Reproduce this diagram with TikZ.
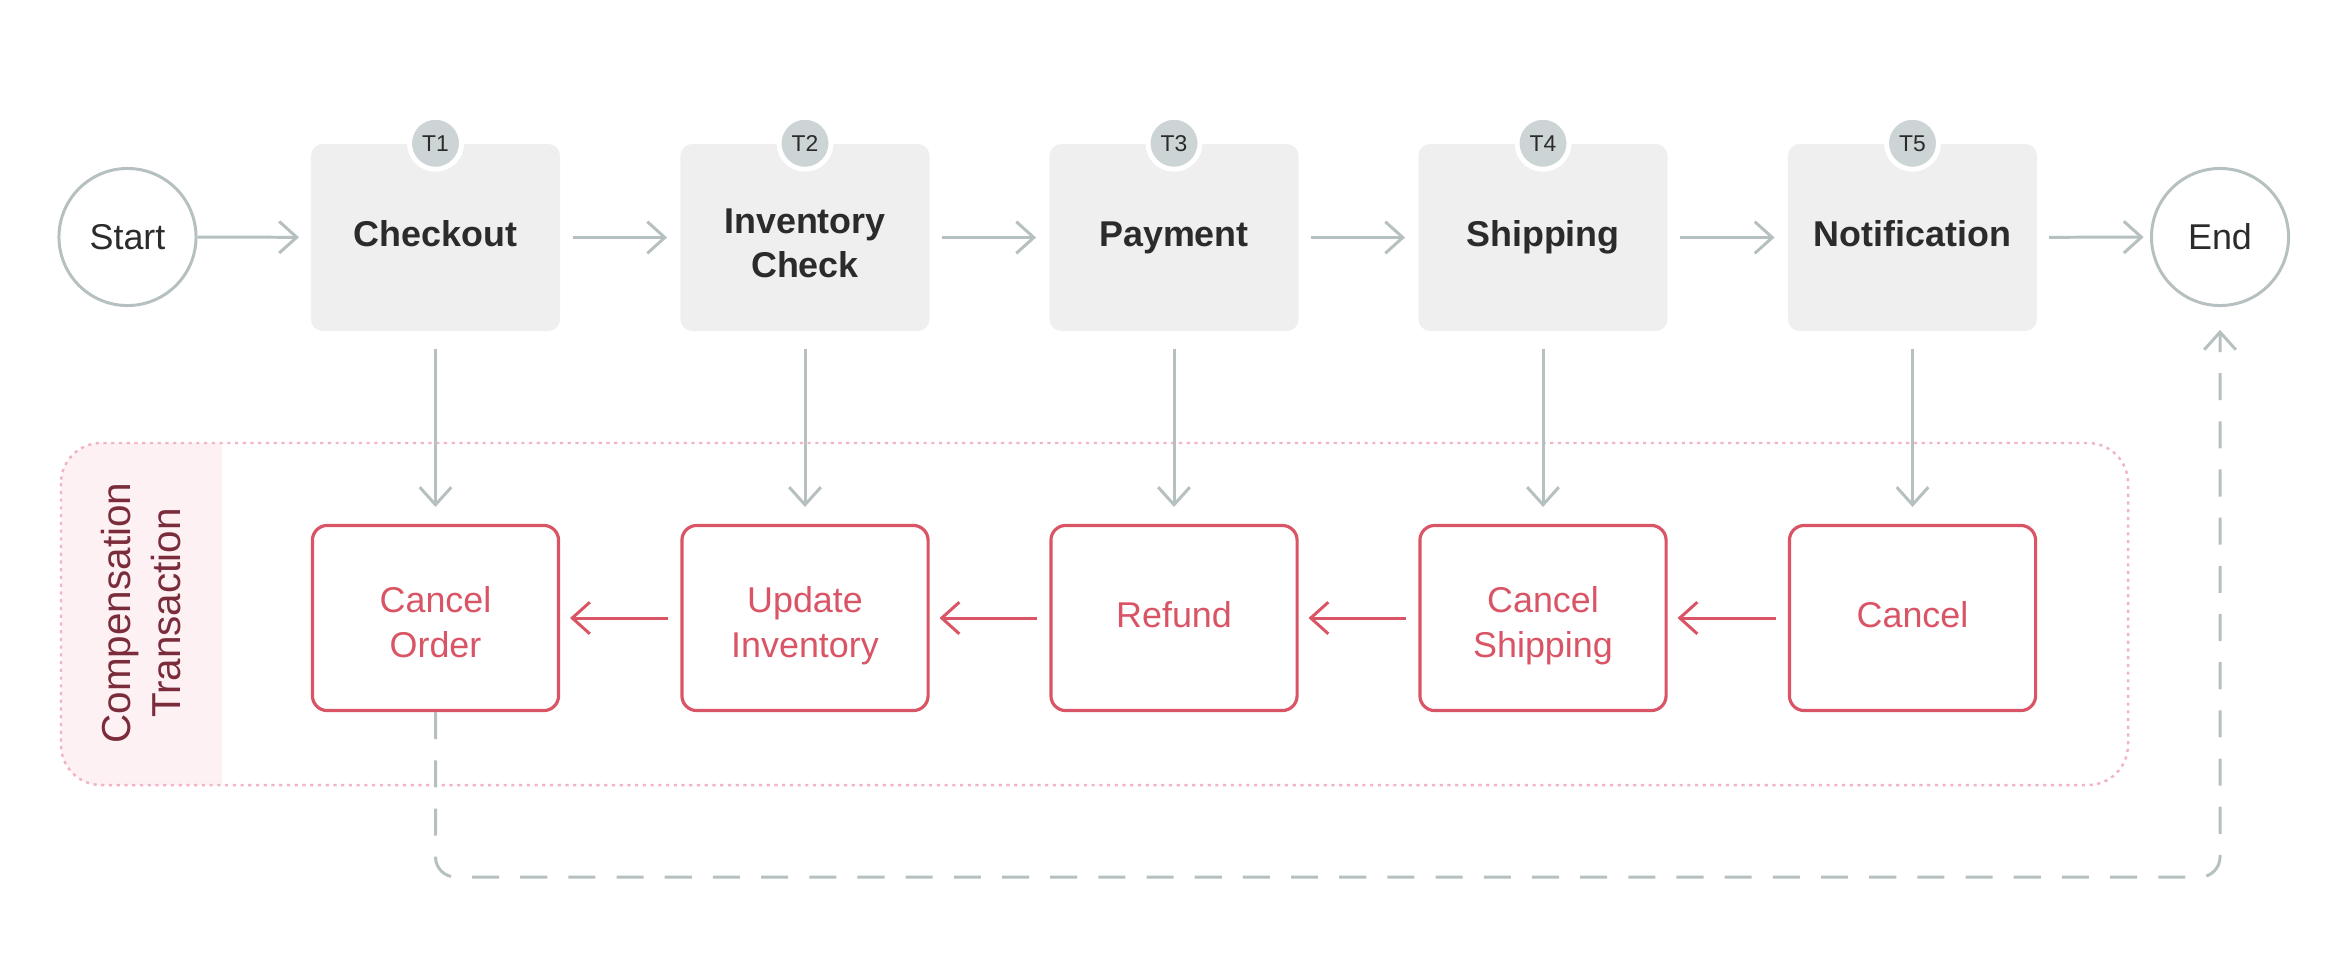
\documentclass[tikz,border=0pt]{standalone}
\usepackage{fontspec}
\setmainfont{Liberation Sans}
\usetikzlibrary{arrows.meta}
\definecolor{boxgray}{HTML}{EFEFEF}
\definecolor{badge}{HTML}{CDD4D6}
\definecolor{arrowgray}{HTML}{B7C0C0}
\definecolor{sagared}{HTML}{D95566}
\definecolor{pinkdot}{HTML}{F2B4C3}
\definecolor{bandpink}{HTML}{FDF1F4}
\definecolor{labelred}{HTML}{7B2C3B}
\definecolor{darktext}{HTML}{2B2B2B}
\tikzset{
  txbox/.style={rectangle, rounded corners=3.4pt, fill=boxgray, minimum width=2.49cm, minimum height=1.87cm, inner sep=0pt, align=center, font=\fontsize{10.2}{12.6}\selectfont\bfseries, text=darktext, text height=8.82pt, text depth=3.78pt},
  txtwo/.style={text height=26.8pt, text depth=3.8pt},
  compbox/.style={rectangle, rounded corners=4.2pt, draw=sagared, line width=0.9pt, fill=white, minimum width=2.46cm, minimum height=1.85cm, inner sep=0pt, align=center, font=\fontsize{10.2}{12.8}\selectfont, text=sagared, text height=8.96pt, text depth=3.84pt},
  comptwo/.style={text height=26.04pt, text depth=3.84pt},
  tbadge/.style={circle, fill=badge, draw=white, line width=1.4pt, minimum size=0.52cm, inner sep=0pt, font=\fontsize{6.5}{7}\selectfont, text=darktext},
  endpt/.style={circle, draw=arrowgray, line width=0.85pt, minimum size=1.37cm, inner sep=0pt, font=\fontsize{10.2}{12}\selectfont, text=darktext, fill=white, text height=7.2pt, text depth=0pt},
  barb/.style={-{Straight Barb[length=5pt,width=9pt]}},
  flow/.style={draw=arrowgray, line width=0.85pt, barb},
  compflow/.style={draw=sagared, line width=0.85pt, barb},
  retflow/.style={draw=arrowgray, line width=0.85pt, dash pattern=on 7.7pt off 6pt, rounded corners=5.7pt, barb}
}
\begin{document}
\begin{tikzpicture}[x=0.01cm,y=-0.01cm]
\useasboundingbox (0,0) rectangle (2340,960);

% compensation region
\begin{scope}
  \clip (61,443) rectangle (222,785);
  \fill[bandpink, rounded corners=11.4pt] (61,443) rectangle (2128,785);
\end{scope}
\draw[pinkdot, line width=0.7pt, dash pattern=on 0.9pt off 1.3pt, rounded corners=11.4pt] (61,443) rectangle (2128,785);
\node[rotate=90, align=center, font=\fontsize{11.5}{14}\selectfont, text=labelred] (clabel) at (141,613) {Compensation\\Transaction};

% top row
\node[endpt] (start) at (127.5,237) {Start};
\node[txbox] (t1) at (435.5,237.5) {Checkout};
\node[txbox, txtwo] (t2) at (805,237.5) {Inventory\\Check};
\node[txbox] (t3) at (1174,237.5) {Payment};
\node[txbox] (t4) at (1543,237.5) {Shipping};
\node[txbox] (t5) at (1912.5,237.5) {Notification};
\node[endpt] (endc) at (2220,237) {End};

\node[tbadge] (b1) at (t1.north) {T1};
\node[tbadge] (b2) at (t2.north) {T2};
\node[tbadge] (b3) at (t3.north) {T3};
\node[tbadge] (b4) at (t4.north) {T4};
\node[tbadge] (b5) at (t5.north) {T5};

% bottom row
\node[compbox, comptwo] (c1) at (435.5,618) {Cancel\\Order};
\node[compbox, comptwo] (c2) at (805,618) {Update\\Inventory};
\node[compbox] (c3) at (1174,618) {Refund};
\node[compbox, comptwo] (c4) at (1543,618) {Cancel\\Shipping};
\node[compbox] (c5) at (1912.5,618) {Cancel};

% top flow
\draw[flow, shorten >=3.2pt] (start) -- (t1);
\draw[flow, shorten <=3.4pt, shorten >=3.6pt] (t1) -- (t2);
\draw[flow, shorten <=3.4pt, shorten >=3.6pt] (t2) -- (t3);
\draw[flow, shorten <=3.4pt, shorten >=3.6pt] (t3) -- (t4);
\draw[flow, shorten <=3.4pt, shorten >=3.6pt] (t4) -- (t5);
\draw[flow, shorten <=3.2pt, shorten >=1.8pt] (t5) -- (endc);

% down arrows
\foreach \i in {1,...,5}{
  \draw[flow, shorten <=4.8pt, shorten >=4.8pt] (t\i) -- (c\i);
}

% compensation flow
\draw[compflow, shorten <=3.4pt, shorten >=2.8pt] (c5) -- (c4);
\draw[compflow, shorten <=3.4pt, shorten >=2.8pt] (c4) -- (c3);
\draw[compflow, shorten <=3.4pt, shorten >=2.8pt] (c3) -- (c2);
\draw[compflow, shorten <=3.4pt, shorten >=2.8pt] (c2) -- (c1);

% return path
\coordinate (retcorner) at (2220,877);
\draw[retflow, shorten >=6.5pt] (c1.south) |- (retcorner) -- (endc.south);
\end{tikzpicture}
\end{document}
